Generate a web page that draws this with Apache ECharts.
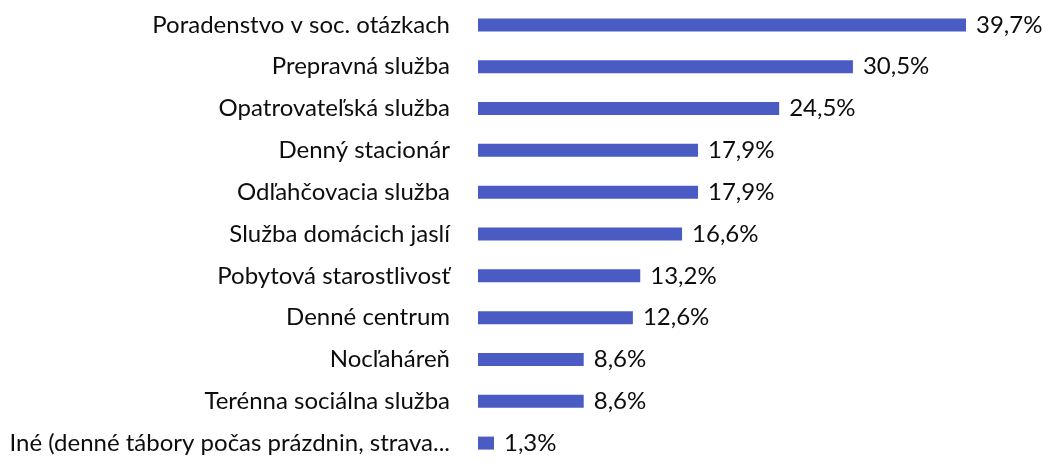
<!DOCTYPE html>
<html>
<head>
<meta charset="utf-8">
<script src="https://cdn.jsdelivr.net/npm/echarts@6/dist/echarts.min.js"></script>
<style>
  html, body { margin: 0; padding: 0; background: #fff; }
  #chart { width: 1051px; height: 464px; }
</style>
</head>
<body>
<div id="chart"></div>
<script>
var categories = [
    'Poradenstvo v soc. otázkach',
    'Prepravná služba',
    'Opatrovateľská služba',
    'Denný stacionár',
    'Odľahčovacia služba',
    'Služba domácich jaslí',
    'Pobytová starostlivosť',
    'Denné centrum',
    'Nocľaháreň',
    'Terénna sociálna služba',
    'Iné (denné tábory počas prázdnin, strava...'
];
var values = [39.7, 30.5, 24.5, 17.9, 17.9, 16.6, 13.2, 12.6, 8.6, 8.6, 1.3];

var chart = echarts.init(document.getElementById('chart'));

// horizontal bars, labels on the left, percentages at bar end
var option = {
    animation: false,
    grid: { left: 478, top: 4, width: 488, height: 470 },
    xAxis: {
        type: 'value',
        min: 0,
        max: 39.7,
        show: false
    },
    yAxis: {
        type: 'category',
        inverse: true,
        data: categories,
        axisLine: { show: false },
        axisTick: { show: false },
        axisLabel: {
            margin: 28,
            color: '#0d0d0d',
            fontFamily: 'Lato',
            fontSize: 24
        }
    },
    series: [{
        type: 'bar',
        data: values,
        barWidth: 13,
        itemStyle: { color: '#4a5cc4' },
        label: {
            show: true,
            position: 'right',
            distance: 10,
            color: '#0d0d0d',
            fontFamily: 'Lato',
            fontSize: 24,
            formatter: function (p) {
                return p.value.toFixed(1).replace('.', ',') + '%';
            }
        }
    }]
};

chart.setOption(option);
</script>
</body>
</html>
